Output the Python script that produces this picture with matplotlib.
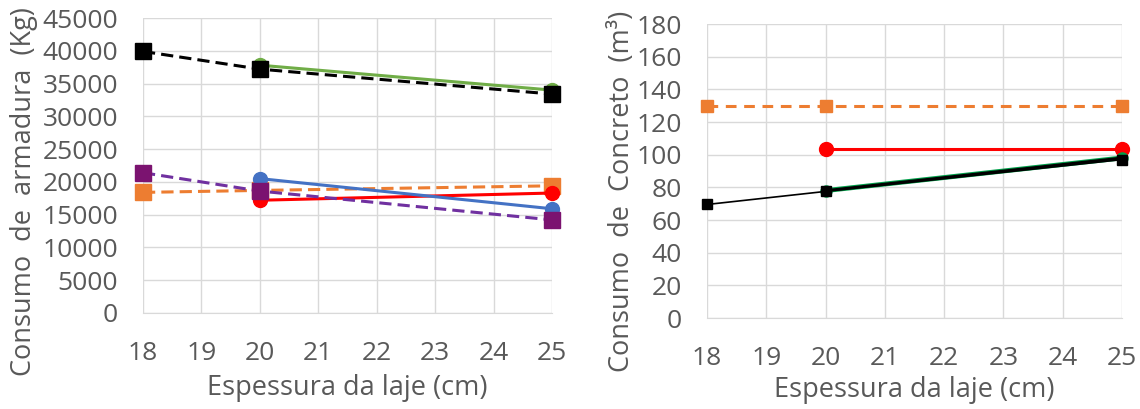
import numpy as np
import matplotlib
matplotlib.use("Agg")
import matplotlib.pyplot as plt

plt.rcParams['font.family'] = ['Open Sans', 'DejaVu Sans']

# espessura da laje (cm)
x_ticks = [18, 19, 20, 21, 22, 23, 24, 25]

# consumo de armadura (kg)
arm_preto_x = [18, 20, 25]
arm_preto_y = [39900, 37200, 33400]
arm_verde_x = [20, 25]
arm_verde_y = [37800, 34000]
arm_roxo_x = [18, 20, 25]
arm_roxo_y = [21400, 18600, 14200]
arm_laranja_x = [18, 20, 25]
arm_laranja_y = [18400, 18700, 19400]
arm_vermelho_x = [20, 25]
arm_vermelho_y = [17200, 18300]
arm_azul_x = [20, 25]
arm_azul_y = [20500, 15900]

# consumo de concreto (m3)
conc_laranja_x = [18, 20, 25]
conc_laranja_y = [130, 130, 130]
conc_vermelho_x = [20, 25]
conc_vermelho_y = [103.5, 103.5]
conc_verde_x = [20, 25]
conc_verde_y = [78, 98]
conc_preto_x = [18, 20, 25]
conc_preto_y = [69.5, 77.5, 97]

txt = '#595959'
grid = '#d9d9d9'

fig = plt.figure(figsize=(11.4, 4.09), dpi=100)
ax1 = fig.add_axes([143/1140, 1-313/409, (552-143)/1140, (313-18)/409])
ax2 = fig.add_axes([707/1140, 1-318/409, (1122-707)/1140, (318-24)/409])


def style(ax, ymax, ystep):
    ax.set_xlim(18, 25)
    ax.set_ylim(0, ymax)
    ax.set_xticks(x_ticks)
    ax.set_yticks(np.arange(0, ymax + 1, ystep))
    ax.grid(True, color=grid, lw=1)
    ax.set_axisbelow(True)
    for s in ['top', 'right', 'left']:
        ax.spines[s].set_visible(False)
    ax.spines['bottom'].set_color(grid)
    ax.tick_params(length=0, labelsize=19, colors=txt)
    ax.tick_params(axis='y', pad=18)
    ax.tick_params(axis='x', pad=20)
    for l in ax.get_xticklabels() + ax.get_yticklabels():
        l.set_clip_on(False)


style(ax1, 45000, 5000)
ax1.plot(arm_verde_x, arm_verde_y, color='#70ad47', lw=2.2, marker='o', ms=10, clip_on=False, zorder=3)
ax1.plot(arm_preto_x, arm_preto_y, color='black', lw=2.2, dashes=(4, 2), marker='s', ms=12, clip_on=False, zorder=4)
ax1.plot(arm_laranja_x, arm_laranja_y, color='#ed7d31', lw=2.2, dashes=(4, 2), marker='s', ms=11, clip_on=False, zorder=3)
ax1.plot(arm_vermelho_x, arm_vermelho_y, color='#ff0000', lw=2.2, marker='o', ms=10, clip_on=False, zorder=3)
ax1.plot(arm_azul_x, arm_azul_y, color='#4472c4', lw=2.2, marker='o', ms=10, clip_on=False, zorder=3)
ax1.plot(arm_roxo_x, arm_roxo_y, color='#7030a0', lw=2.2, dashes=(4, 2), marker='s', ms=11,
         mfc='#7b1370', mec='#7b1370', clip_on=False, zorder=4)
ax1.set_xlabel('Espessura da laje (cm)', fontsize=19.5, color=txt)
ax1.set_ylabel('Consumo  de  armadura  (Kg)', fontsize=19.5, color=txt)
ax1.xaxis.set_label_coords(0.5, -0.207)
ax1.yaxis.set_label_coords(-0.257, 0.41)

style(ax2, 180, 20)
ax2.plot(conc_laranja_x, conc_laranja_y, color='#ed7d31', lw=2.2, dashes=(3.5, 2.5), marker='s', ms=9, clip_on=False, zorder=3)
ax2.plot(conc_vermelho_x, conc_vermelho_y, color='#ff0000', lw=2.2, marker='o', ms=10, clip_on=False, zorder=3)
ax2.plot(conc_verde_x, conc_verde_y, color='#00a04a', lw=3.5, marker='o', ms=8, clip_on=False, zorder=3)
ax2.plot(conc_preto_x, conc_preto_y, color='black', lw=1.2, marker='s', ms=7, clip_on=False, zorder=4)
ax2.plot(conc_verde_x, conc_verde_y, color='black', lw=2, zorder=4)
ax2.set_xlabel('Espessura da laje (cm)', fontsize=19.5, color=txt)
ax2.set_ylabel('Consumo  de  Concreto  (m³)', fontsize=19.5, color=txt)
ax2.xaxis.set_label_coords(0.5, -0.197)
ax2.yaxis.set_label_coords(-0.171, 0.43)

fig.savefig('out.png', dpi=100)
